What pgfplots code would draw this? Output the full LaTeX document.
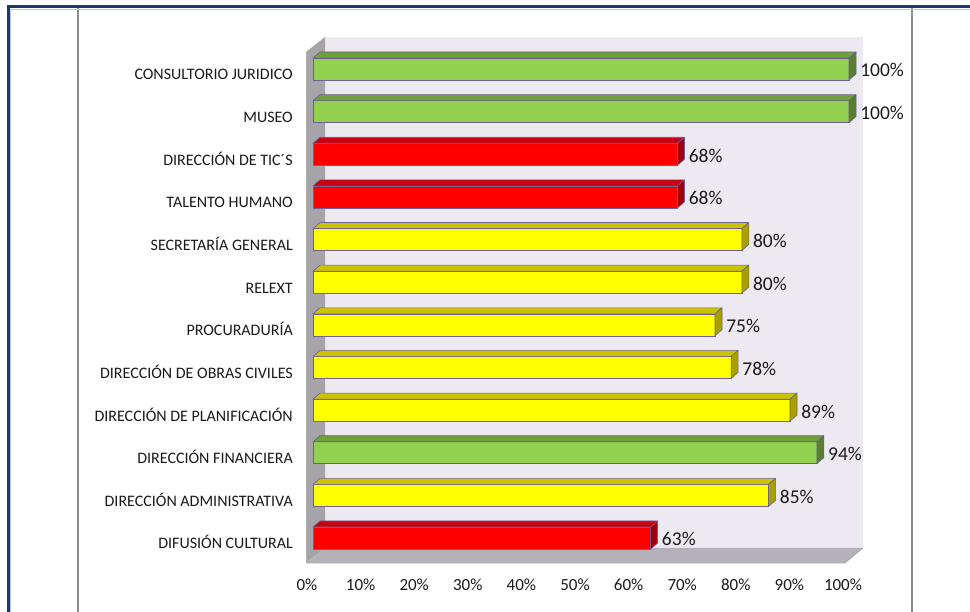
\documentclass[border=0pt]{standalone}
\usepackage{fontspec}
\setmainfont{Carlito}
\usepackage{pgfplots}
\pgfplotsset{compat=1.18}
\definecolor{navy}{HTML}{1F3864}
\definecolor{paleblue}{HTML}{B8CCE4}
\definecolor{frameg}{HTML}{8C8C8C}
\definecolor{backwall}{HTML}{ECE9F1}
\definecolor{leftwall}{HTML}{A6A4A8}
\definecolor{floorc}{HTML}{B5B1B8}
\definecolor{edgec}{HTML}{6E5F96}
\definecolor{gfront}{HTML}{92D050}
\definecolor{gtop}{HTML}{70A038}
\definecolor{gside}{HTML}{577F2C}
\definecolor{rfront}{HTML}{FF0000}
\definecolor{rtop}{HTML}{C80010}
\definecolor{rside}{HTML}{A0000C}
\definecolor{yfront}{HTML}{FFFF00}
\definecolor{ytop}{HTML}{CCC400}
\definecolor{yside}{HTML}{A8A000}
\definecolor{txt}{HTML}{1A1A1A}

\pgfplotsset{
  faces3d/.style n args={2}{
    only marks, scatter, mark=*, mark size=0pt,
    visualization depends on={rawx \as \val},
    scatter/@pre marker code/.code={%
      \filldraw[fill=#1, draw=edgec, line width=0.6pt, line join=round]
        ({-\val*5.36pt},11pt) -- (0pt,11pt) -- (7pt,17pt) -- ({-\val*5.36pt+7pt},17pt) -- cycle;
      \filldraw[fill=#2, draw=edgec, line width=0.6pt, line join=round]
        (0pt,-11pt) -- (7pt,-5pt) -- (7pt,17pt) -- (0pt,11pt) -- cycle;
    },
    scatter/@post marker code/.code={},
  },
  front3d/.style={
    xbar, bar width=22pt, bar shift=0pt, draw=edgec, line width=0.6pt,
    point meta=x,
    nodes near coords={\pgfmathprintnumber[fixed,precision=0]{\pgfplotspointmeta}\%},
    nodes near coords style={anchor=base west, inner sep=0pt, xshift=11pt, yshift=-8pt,
      font=\fontsize{19.5}{22}\selectfont, text=txt},
  },
}

\begin{document}
\begin{tikzpicture}
\begin{scope}[x=1pt,y=1pt]
\path[use as bounding box] (0,0) rectangle (970,612);
\fill[white] (0,0) rectangle (970,612);
% frame
\draw[frameg, line width=1.3pt] (78,0) -- (78,604);
\draw[frameg, line width=1.3pt] (912,0) -- (912,604);
\draw[paleblue, line width=1pt] (10.5,0) -- (10.5,602.5) -- (970,602.5);
\draw[navy, line width=3pt] (8,0) -- (8,605) -- (970,605);
% walls
\fill[backwall] (325,64) rectangle (863,575);
\fill[leftwall] (306,560) -- (325,575) -- (325,64) -- (306,49) -- cycle;
\fill[floorc] (306,49) -- (325,64) -- (863,64) -- (845,49) -- cycle;
\draw[black!35, line width=0.6pt] (306,49) -- (845,49) -- (863,64);
\draw[black!30, line width=0.6pt] (306,49) -- (306,560);
\end{scope}

\begin{axis}[
  at={(313pt,54pt)}, anchor=south west,
  scale only axis, width=536pt, height=511pt,
  xmin=0, xmax=100, ymin=-0.469, ymax=11.516,
  clip=false,
  axis line style={draw=none}, tick style={draw=none},
  xtick={0,10,...,100},
  xticklabels={0\%,10\%,20\%,30\%,40\%,50\%,60\%,70\%,80\%,90\%,100\%},
  xticklabel style={anchor=base, inner sep=0pt, xshift=-6pt, yshift=-33pt,
    font=\fontsize{17}{20}\selectfont, text=txt},
  ytick={0,...,11},
  yticklabels={DIFUSIÓN CULTURAL, DIRECCIÓN ADMINISTRATIVA, DIRECCIÓN FINANCIERA,
    DIRECCIÓN DE PLANIFICACIÓN, DIRECCIÓN DE OBRAS CIVILES, PROCURADURÍA, RELEXT,
    SECRETARÍA GENERAL, TALENTO HUMANO, DIRECCIÓN DE TIC´S, MUSEO, CONSULTORIO JURIDICO},
  yticklabel style={anchor=base east, inner sep=0pt, xshift=-20pt, yshift=-11pt,
    font=\fontsize{16}{19}\selectfont, text=txt},
  /pgf/number format/assume math mode=true,
]
% green
\addplot[faces3d={gtop}{gside}] coordinates {(100,11) (100,10) (94,2)};
\addplot[front3d, fill=gfront] coordinates {(100,11) (100,10) (94,2)};
% red
\addplot[faces3d={rtop}{rside}] coordinates {(68,9) (68,8) (63,0)};
\addplot[front3d, fill=rfront] coordinates {(68,9) (68,8) (63,0)};
% yellow
\addplot[faces3d={ytop}{yside}] coordinates {(80,7) (80,6) (75,5) (78,4) (89,3) (85,1)};
\addplot[front3d, fill=yfront] coordinates {(80,7) (80,6) (75,5) (78,4) (89,3) (85,1)};
\end{axis}
\end{tikzpicture}
\end{document}
